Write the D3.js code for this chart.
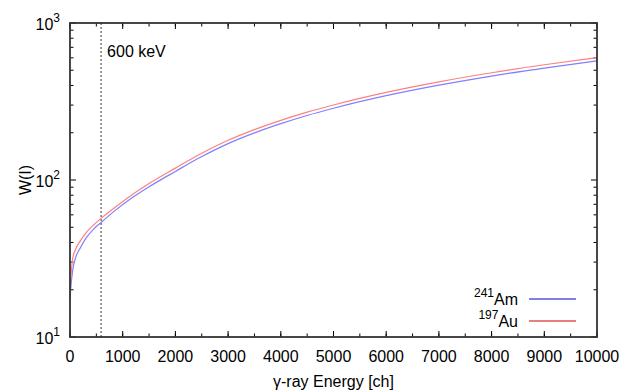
<!DOCTYPE html>
<html>
<head>
<meta charset="utf-8">
<script src="https://cdn.jsdelivr.net/npm/d3@7"></script>
<style>
  body { margin: 0; background: #fff; }
  text { font-family: "Liberation Sans", Arial, sans-serif; fill: #000; }
</style>
</head>
<body>
<div id="chart"></div>
<script>
// channel values
var energy = [0, 20, 50, 100, 200, 300, 430, 600, 870, 1125, 1500, 2000, 2500, 3000, 3500, 4000, 4500, 5000, 6000, 7000, 8000, 9000, 10000];
var wAu = [19.9, 24.8, 31.5, 35.8, 41.1, 45.9, 51, 57.4, 67.6, 78.3, 95, 119, 148, 179, 209.4, 239.9, 270.4, 300.6, 361.4, 421.7, 481.9, 542, 602.6];
var wAm = [17.6, 21.4, 26.5, 31.5, 37.2, 42.5, 48, 54, 64.5, 74.8, 90.5, 113.4, 141, 170.6, 199.6, 228.6, 257.7, 286.5, 344.4, 401.9, 459.3, 516.5, 574.3];
var markerCh = 590;
var xTicks = [0, 1000, 2000, 3000, 4000, 5000, 6000, 7000, 8000, 9000, 10000];
var yTicks = [10, 100, 1000];

var margin = { top: 23, right: 41, bottom: 55, left: 70 },
    width = 638 - margin.left - margin.right,
    height = 392 - margin.top - margin.bottom;

var svg = d3.select("#chart")
  .append("svg")
  .attr("width", 638)
  .attr("height", 392)
  .append("g")
  .attr("transform", "translate(" + margin.left + "," + margin.top + ")");

var x = d3.scaleLinear().domain([0, 10000]).range([0, width]);
var y = d3.scaleLog().domain([10, 1000]).range([height, 0]);

// minor ticks
var xMinor = d3.range(0, 10001, 500);
var yMinor = [];
[10, 100].forEach(function (d) { for (var k = 2; k <= 9; k++) yMinor.push(d * k); });

function tickLines(vals, len, horizontal) {
  vals.forEach(function (v) {
    if (horizontal) {
      svg.append("line").attr("x1", 0).attr("x2", len).attr("y1", y(v)).attr("y2", y(v)).attr("stroke", "#000");
      svg.append("line").attr("x1", width).attr("x2", width - len).attr("y1", y(v)).attr("y2", y(v)).attr("stroke", "#000");
    } else {
      svg.append("line").attr("x1", x(v)).attr("x2", x(v)).attr("y1", height).attr("y2", height - len).attr("stroke", "#000");
      svg.append("line").attr("x1", x(v)).attr("x2", x(v)).attr("y1", 0).attr("y2", len).attr("stroke", "#000");
    }
  });
}
tickLines(xMinor, 3.5, false);
tickLines(xTicks, 6, false);
tickLines(yMinor, 3.5, true);
tickLines(yTicks, 6, true);

// x tick labels
svg.selectAll(".xlab").data(xTicks).enter()
  .append("text")
  .attr("class", "xlab")
  .attr("x", function (d) { return x(d); })
  .attr("y", height + 25)
  .attr("text-anchor", "middle")
  .style("font-size", "16px")
  .text(function (d) { return d; });

// y tick labels 10^n
yTicks.forEach(function (d) {
  var t = svg.append("text")
    .attr("x", -10)
    .attr("y", y(d) + 7)
    .attr("text-anchor", "end")
    .style("font-size", "16px");
  t.append("tspan").text("10");
  t.append("tspan").attr("dy", -8).style("font-size", "12px").text(Math.round(Math.log10(d)));
});

// dashed marker line
svg.append("line")
  .attr("x1", x(markerCh)).attr("x2", x(markerCh))
  .attr("y1", 0).attr("y2", height)
  .attr("stroke", "#000")
  .attr("stroke-width", 0.8)
  .attr("stroke-dasharray", "2,2");
svg.append("text")
  .attr("x", x(markerCh) + 6)
  .attr("y", 34)
  .style("font-size", "16px")
  .text("600 keV");

// curves
var line = function (vals) {
  return d3.line()
    .x(function (d, i) { return x(energy[i]); })
    .y(function (d) { return y(d); })
    .curve(d3.curveMonotoneX)(vals);
};
svg.append("path").attr("d", line(wAm)).attr("fill", "none").attr("stroke", "#8080ff").attr("stroke-width", 1.2);
svg.append("path").attr("d", line(wAu)).attr("fill", "none").attr("stroke", "#ff8080").attr("stroke-width", 1.2);

// frame
svg.append("rect")
  .attr("x", 0).attr("y", 0).attr("width", width).attr("height", height)
  .attr("fill", "none").attr("stroke", "#333").attr("stroke-width", 1.8);

// legend
var legend = [
  { mass: "241", name: "Am", color: "#0000cc" },
  { mass: "197", name: "Au", color: "#cc0000" }
];
legend.forEach(function (d, i) {
  var ly = 276 + i * 22;
  var t = svg.append("text")
    .attr("x", 448)
    .attr("y", ly + 6)
    .attr("text-anchor", "end")
    .style("font-size", "16px");
  t.append("tspan").attr("dy", -8).style("font-size", "12px").text(d.mass);
  t.append("tspan").attr("dy", 8).text(d.name);
  svg.append("line")
    .attr("x1", 459).attr("x2", 506)
    .attr("y1", ly).attr("y2", ly)
    .attr("stroke", d.color).attr("stroke-width", 1);
});

// axis titles
svg.append("text")
  .attr("x", width / 2)
  .attr("y", height + 50)
  .attr("text-anchor", "middle")
  .style("font-size", "16px")
  .text("γ-ray Energy [ch]");

svg.append("text")
  .attr("transform", "translate(" + (-39) + "," + (height / 2) + ") rotate(-90)")
  .attr("text-anchor", "middle")
  .style("font-size", "16px")
  .text("W(I)");
</script>
</body>
</html>
